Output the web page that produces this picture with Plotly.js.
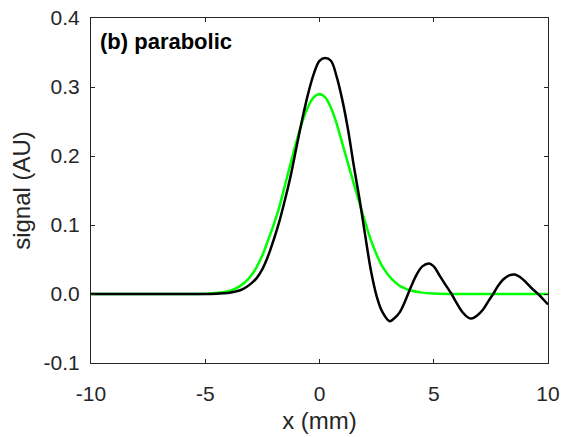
<!DOCTYPE html>
<html>
<head>
<meta charset="utf-8">
<script src="https://cdn.plot.ly/plotly-3.0.1.min.js"></script>
<style>html,body{margin:0;padding:0;background:#fff;}#chart{width:564px;height:437px;}</style>
</head>
<body>
<div id="chart"></div>
<script>
// Green curve (smooth reference pulse)
const greenX = [-10, -6, -5, -4.5, -4, -3.75, -3.5, -3.25, -3, -2.75, -2.5, -2.25, -2, -1.75, -1.5, -1.25, -1, -0.75, -0.5, -0.25, 0, 0.25, 0.5, 0.75, 1, 1.25, 1.5, 1.75, 2, 2.25, 2.5, 2.75, 3, 3.25, 3.5, 3.75, 4, 4.5, 5, 6, 8, 10];
const greenY = [0, 0, 0.0004, 0.0013, 0.0041, 0.0068, 0.0111, 0.0174, 0.0264, 0.039, 0.056, 0.078, 0.101, 0.127, 0.159, 0.191, 0.222, 0.2497, 0.2713, 0.2852, 0.290, 0.285, 0.270, 0.247, 0.218, 0.189, 0.160, 0.132, 0.104, 0.078, 0.057, 0.040, 0.028, 0.019, 0.012, 0.008, 0.005, 0.002, 0.0008, 0, 0, 0];
// Black curve (oscillating signal)
const blackX = [-10, -6, -5, -4.5, -4, -3.5, -3.25, -3, -2.75, -2.5, -2.25, -2, -1.75, -1.5, -1.25, -1, -0.75, -0.5, -0.25, 0, 0.25, 0.5, 0.75, 1, 1.25, 1.5, 1.75, 2, 2.25, 2.5, 2.75, 3.07, 3.25, 3.5, 3.75, 4, 4.25, 4.5, 4.8, 5, 5.25, 5.5, 5.78, 6, 6.25, 6.5, 6.65, 6.9, 7.16, 7.4, 7.6, 7.8, 8.04, 8.3, 8.55, 8.8, 9.06, 9.3, 9.57, 9.8, 10];
const blackY = [0, 0, 0, 0.0005, 0.0015, 0.005, 0.009, 0.015, 0.023, 0.036, 0.055, 0.079, 0.106, 0.138, 0.173, 0.214, 0.254, 0.290, 0.319, 0.338, 0.342, 0.338, 0.315, 0.281, 0.238, 0.186, 0.138, 0.085, 0.034, -0.003, -0.026, -0.0394, -0.036, -0.027, -0.010, 0.010, 0.028, 0.040, 0.0442, 0.040, 0.027, 0.014, 0, -0.013, -0.026, -0.034, -0.0355, -0.031, -0.0225, -0.010, 0, 0.011, 0.021, 0.027, 0.0283, 0.024, 0.0162, 0.008, 0, -0.008, -0.0152];
const xTicks = [-10, -5, 0, 5, 10];
const xTickText = ["-10", "-5", "0", "5", "10"];
const yTicks = [-0.1, 0, 0.1, 0.2, 0.3, 0.4];
const yTickText = ["-0.1", "0.0", "0.1", "0.2", "0.3", "0.4"];
const panelLabel = "(b) parabolic";

const axisCol = "#262626";
const fam = "Liberation Sans, Arial, sans-serif";
const traces = [
  {x: greenX, y: greenY, mode: "lines", line: {color: "#00ff00", width: 2.5, shape: "spline", smoothing: 1}, hoverinfo: "skip"},
  {x: blackX, y: blackY, mode: "lines", line: {color: "#000000", width: 2.5, shape: "spline", smoothing: 1}, hoverinfo: "skip"}
];
const layout = {
  width: 564, height: 437,
  margin: {l: 91, r: 16, t: 18, b: 74, pad: 0},
  paper_bgcolor: "#fff", plot_bgcolor: "#fff",
  showlegend: false,
  font: {family: fam, size: 21, color: axisCol},
  xaxis: {
    range: [-10, 10], tickvals: xTicks, ticktext: xTickText,
    ticks: "inside", ticklen: 4, tickwidth: 1, tickcolor: axisCol,
    showline: true, linecolor: axisCol, linewidth: 1, mirror: "ticks",
    showgrid: false, zeroline: false,
    tickfont: {family: fam, size: 21, color: axisCol},
    ticklabelstandoff: 12,
    title: {text: "x (mm)", font: {family: fam, size: 24, color: axisCol}, standoff: 7}
  },
  yaxis: {
    range: [-0.1, 0.4], tickvals: yTicks, ticktext: yTickText,
    ticks: "inside", ticklen: 4, tickwidth: 1, tickcolor: axisCol,
    showline: true, linecolor: axisCol, linewidth: 1, mirror: "ticks",
    showgrid: false, zeroline: false,
    tickfont: {family: fam, size: 21, color: axisCol},
    ticklabelstandoff: 6,
    title: {text: "signal (AU)", font: {family: fam, size: 24, color: axisCol}, standoff: 6}
  },
  annotations: [{
    text: "<b>" + panelLabel + "</b>", xref: "paper", yref: "paper",
    x: 0.016, y: 0.932, xanchor: "left", yanchor: "middle", showarrow: false,
    font: {family: fam, size: 22, color: "#000"}
  }]
};
Plotly.newPlot("chart", traces, layout, {staticPlot: true, displayModeBar: false});
</script>
</body>
</html>
